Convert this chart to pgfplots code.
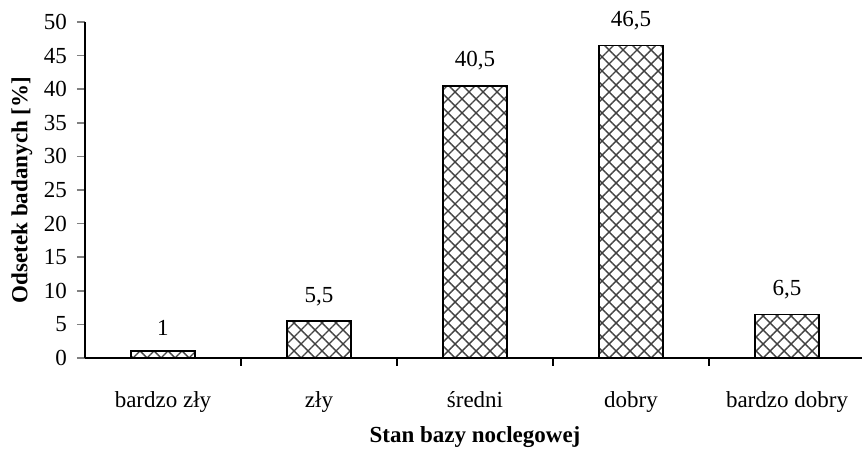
\documentclass[border=0pt]{standalone}
\usepackage{pgfplots}
\pgfplotsset{compat=1.18}
\usepackage{fontspec}
\setmainfont{Liberation Serif}
\usetikzlibrary{patterns.meta}
\begin{document}
\fontsize{11.5}{13.5}\selectfont
\begin{tikzpicture}
\path[use as bounding box] (-42.5pt,-45.5pt) rectangle (388.5pt,179pt);
\begin{axis}[
  at={(0,0)}, anchor=south west,
  scale only axis,
  width=390pt, height=168pt,
  xmin=-0.5, xmax=4.5,
  ymin=0, ymax=50,
  ytick={0,5,...,50},
  xtick={0,1,2,3,4},
  xticklabels={bardzo zły, zły, średni, dobry, bardzo dobry},
  minor xtick={0.5,1.5,2.5,3.5},
  axis lines*=left,
  axis line style={line width=0.8pt},
  tick align=outside,
  major tick length=4pt,
  minor tick length=4pt,
  x tick style={draw=none},
  minor x tick style={draw=black, line width=0.8pt},
  y tick style={line width=0.8pt},
  xticklabel style={yshift=-8.5pt},
  yticklabel style={xshift=-1pt},
  /pgf/number format/assume math mode=true,
  /pgf/number format/use comma,
  xlabel={\textbf{Stan bazy noclegowej}},
  ylabel={\textbf{Odsetek badanych [\%]}},
  xlabel style={at={(axis description cs:0.5,-0.235)}, anchor=center},
  ylabel style={at={(axis description cs:-0.081,0.5)}, anchor=center},
  ybar, bar width=32pt,
  nodes near coords,
  nodes near coords style={yshift=3.5pt, /pgf/number format/use comma, /pgf/number format/assume math mode=true},
]
\addplot[draw=black, line width=0.8pt, fill=white,
  postaction={pattern={Lines[angle=45,distance=4.95pt,line width=0.7pt]}, pattern color=black!75},
  postaction={pattern={Lines[angle=-45,distance=4.95pt,line width=0.7pt]}, pattern color=black!75}]
  coordinates {(0,1) (1,5.5) (2,40.5) (3,46.5) (4,6.5)};
\end{axis}
\end{tikzpicture}
\end{document}
